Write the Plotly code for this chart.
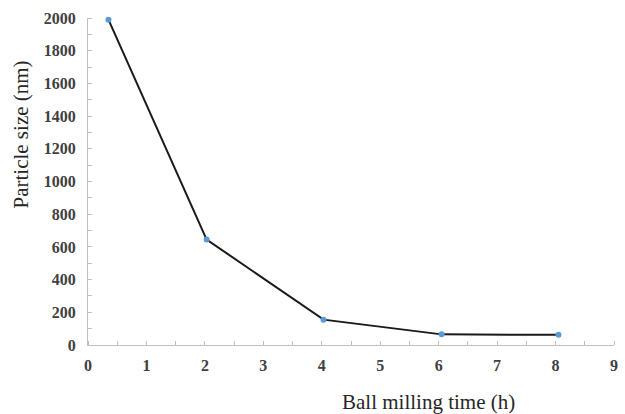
import plotly.graph_objects as go

time_h = [0.35, 2.03, 4.03, 6.05, 8.05]
size_nm = [1990, 645, 155, 65, 62]
x_ticks = [0, 1, 2, 3, 4, 5, 6, 7, 8, 9]
y_ticks = [0, 200, 400, 600, 800, 1000, 1200, 1400, 1600, 1800, 2000]

fig = go.Figure()
fig.add_trace(go.Scatter(
    x=time_h, y=size_nm, mode="lines+markers",
    line=dict(color="#1a1a1a", width=2),
    marker=dict(color="#5b9bd5", size=6),
    showlegend=False, cliponaxis=False,
))

tickfont = dict(family="Liberation Serif", size=16, color="#404040", weight="bold")
fig.update_layout(
    width=625, height=414,
    margin=dict(l=88, r=7, t=18, b=69),
    plot_bgcolor="white", paper_bgcolor="white",
    xaxis=dict(range=[0, 9], tickvals=x_ticks, showgrid=False, zeroline=False,
               showline=True, linecolor="#bfbfbf", linewidth=1,
               ticks="outside", ticklen=6, tickcolor="white",
               minor=dict(dtick=0.5, ticks="inside", ticklen=4, tickcolor="#bfbfbf"),
               tickfont=tickfont),
    yaxis=dict(range=[0, 2000], tickvals=y_ticks, showgrid=False, zeroline=False,
               showline=True, linecolor="#bfbfbf", linewidth=1,
               ticks="outside", ticklen=8, tickcolor="white",
               minor=dict(dtick=100, ticks="inside", ticklen=4, tickcolor="#bfbfbf"),
               tickfont=tickfont),
)
pw, ph = 625 - 88 - 7, 414 - 18 - 69
fig.add_annotation(text="Ball milling time (h)", x=(431 - 88) / pw, y=(345 - 402) / ph,
                   xref="paper", yref="paper", showarrow=False, yanchor="middle",
                   font=dict(family="Liberation Serif", size=21, color="#262626"))
fig.add_annotation(text="Particle size (nm)", x=(20 - 88) / pw, y=(345 - 135) / ph,
                   xref="paper", yref="paper", showarrow=False, textangle=-90,
                   xanchor="center", yanchor="middle",
                   font=dict(family="Liberation Serif", size=21, color="#262626"))
fig.write_html("out.html")
